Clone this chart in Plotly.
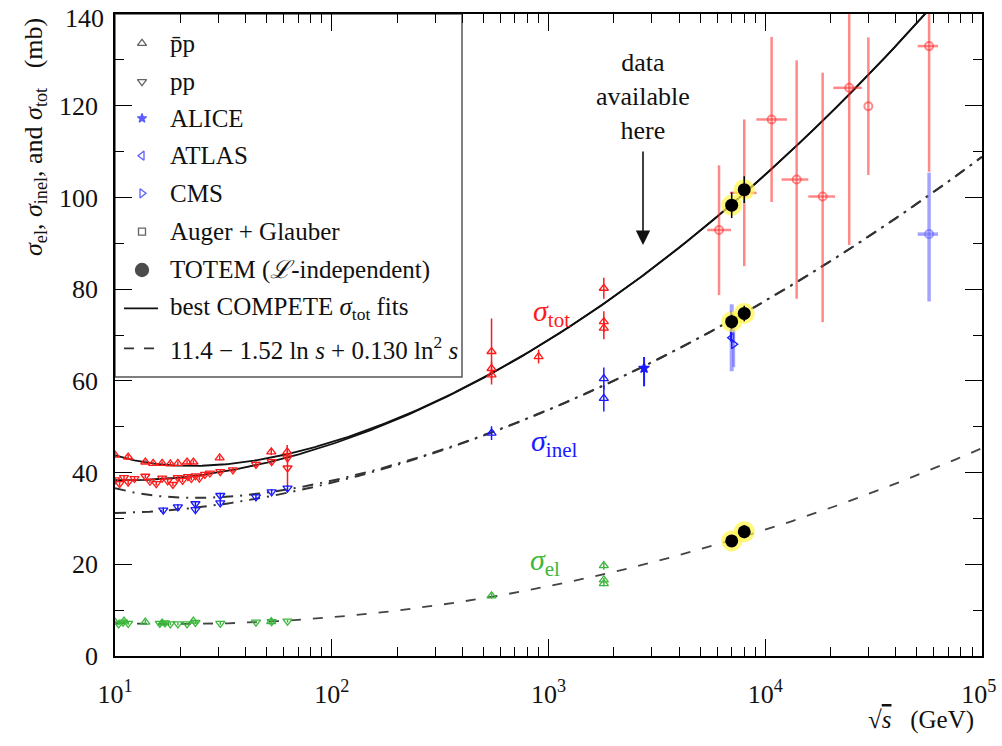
import numpy as np
import plotly.graph_objects as go

# ---------------------------------------------------------------- data
# sigma_tot, pbar-p (red, up triangles)
tot_pbarp_rs = [10.0, 11.5, 13.8, 15.0, 16.5, 18.0, 19.5, 21.5, 23.0, 30.4, 52.6, 62.3,
                546, 546, 546, 900, 1800, 1800, 1800]
tot_pbarp_val = [43.8, 43.4, 42.3, 42.0, 42.0, 41.9, 42.0, 42.3, 42.3, 43.2, 44.5, 44.5,
                 66.4, 62.7, 61.3, 65.3, 80.2, 72.9, 71.5]
tot_pbarp_err = [0.6, 0.5, 0.4, 0.4, 0.4, 0.4, 0.4, 0.4, 0.4, 0.5, 0.7, 1.5,
                 7.2, 1.5, 1.0, 1.5, 2.3, 2.3, 2.4]
# sigma_tot, pp (red, down triangles)
tot_pp_rs = [10.0, 10.5, 11.0, 11.5, 12.3, 13.8, 14.5, 15.5, 16.5, 17.5, 18.5, 19.5,
             20.5, 21.7, 22.5, 23.5, 24.5, 26.0, 27.4, 30.6, 35.0, 44.7, 52.8, 62.5, 62.5]
tot_pp_val = [38.4, 37.6, 38.9, 37.9, 38.7, 39.2, 38.1, 37.6, 38.8, 38.2, 37.4, 38.9,
              38.3, 39.1, 38.7, 39.3, 38.8, 39.6, 39.9, 40.2, 40.6, 41.8, 42.4, 43.2, 41.0]
tot_pp_err = [0.5, 0.5, 0.5, 0.5, 0.5, 0.4, 0.4, 0.4, 0.4, 0.4, 0.4, 0.4,
              0.4, 0.4, 0.4, 0.4, 0.4, 0.4, 0.4, 0.4, 0.5, 0.6, 0.6, 1.0, 3.8]
# cosmic-ray sigma_tot (light red open circles)
cr_rs = [6120, 8000, 10700, 13960, 18400, 24400, 29900]
cr_val = [92.9, 101.0, 117.0, 103.9, 100.2, 123.9, 119.9]
cr_err_plus = [14.1, 16.0, 18.0, 26.0, 27.0, 34.0, 15.0]
cr_err_minus = [14.2, 16.0, 18.0, 26.0, 27.4, 34.3, 15.0]
cr_xerr_plus = [830, 1120, 1900, 1840, 2600, 3500, 0]
cr_xerr_minus = [720, 1130, 1600, 2060, 2600, 3800, 0]
# Auger + Glauber at 57 TeV
auger_rs = [57000]
auger_tot = [133.0]
auger_tot_err_plus = [28.0]
auger_tot_err_minus = [27.4]
auger_inel = [92.0]
auger_inel_err_plus = [13.4]
auger_inel_err_minus = [14.7]
auger_xerr_plus = [5700]
auger_xerr_minus = [6500]

# sigma_inel
inel_pp_rs = [16.7, 19.5, 23.5, 23.5, 30.6, 30.6, 44.7, 52.8, 62.5]
inel_pp_val = [31.8, 32.5, 33.2, 31.9, 35.0, 33.4, 34.7, 35.8, 36.6]
inel_pp_err = [0.6, 0.6, 0.6, 0.6, 0.6, 0.6, 0.6, 0.6, 0.7]
inel_pbarp_rs = [546, 1800, 1800]
inel_pbarp_val = [48.6, 60.5, 56.2]
inel_pbarp_err = [1.5, 2.4, 2.9]
alice_rs = [2760, 6950]
alice_val = [62.8, 73.2]
alice_err_plus = [2.4, 2.0]
alice_err_minus = [4.0, 4.6]
atlas_rs = [7000]
atlas_val = [69.4]
atlas_err = [7.3]
cms_rs = [7150]
cms_val = [68.0]
cms_err = [5.0]

# sigma_el
el_pp_rs = [10.4, 10.9, 11.5, 16.1, 17.0, 18.0, 19.5, 21.5, 23.5, 30.6, 44.7, 52.8, 62.5]
el_pp_val = [7.0, 7.4, 7.1, 7.1, 7.2, 7.0, 7.0, 7.0, 7.3, 7.1, 7.4, 7.5, 7.6]
el_pp_err = [0.3, 0.3, 0.3, 0.3, 0.3, 0.3, 0.3, 0.3, 0.3, 0.3, 0.3, 0.3, 0.3]
el_pbarp_rs = [10.0, 11.0, 13.8, 16.5, 23.0, 52.6, 546, 1800, 1800, 1800]
el_pbarp_val = [7.4, 7.6, 7.4, 7.2, 7.6, 7.5, 13.1, 19.7, 16.6, 15.8]
el_pbarp_err = [0.3, 0.3, 0.5, 0.3, 0.3, 0.3, 0.6, 0.9, 0.4, 0.6]

# TOTEM (luminosity independent)
totem_rs = [7000, 8000]
totem_tot = [98.3, 101.7]
totem_tot_err = [2.8, 2.9]
totem_inel = [72.9, 74.7]
totem_inel_err = [1.5, 1.7]
totem_el = [25.1, 27.1]
totem_el_err = [1.1, 1.4]

# fit parameters (COMPETE-type sigma_tot; sigma_el formula from legend)
Z_FIT, B_FIT, LN_S0 = 35.45, 0.309, 3.425
Y1_FIT, ETA1 = 42.53, 0.458
Y2_FIT, ETA2 = 33.34, 0.545
EL_A, EL_B, EL_C = 11.4, -1.52, 0.130

x_ticks = [10, 100, 1000, 10000, 100000]
x_tick_text = ["10<sup>1</sup>", "10<sup>2</sup>", "10<sup>3</sup>", "10<sup>4</sup>",
               "10<sup>5</sup>&nbsp;"]
y_ticks = [0, 20, 40, 60, 80, 100, 120]
y_top_label = "140"

legend_labels = ["p\u0304p", "pp", "ALICE", "ATLAS", "CMS", "Auger + Glauber",
                 "TOTEM (<i>\u2112</i>-independent)",
                 "best COMPETE <i>\u03c3</i><sub>tot</sub> fits",
                 "11.4 \u2212 1.52 ln <i>s</i> + 0.130 ln<sup>2</sup> <i>s</i>"]

# ---------------------------------------------------------------- layout geometry
W, H = 1002, 746
ML, MR, MT, MB = 115, 20, 14, 90
PW, PH = W - ML - MR, H - MT - MB


def pxx(x):
    return (x - ML) / PW


def pyy(y):
    return (H - MB - y) / PH


FONT = "Liberation Serif, DejaVu Serif, serif"
RED = "#ff1a1a"
RED_L = "rgba(255,40,40,0.55)"
BLUE = "#1a1aff"
BLUE_L = "rgba(90,90,255,0.55)"
GREEN = "#3cb83c"

# ---------------------------------------------------------------- curves
rs = np.logspace(1, 5, 400)
s = rs ** 2
lns = np.log(s)
base = Z_FIT + B_FIT * (lns - LN_S0) ** 2 + Y1_FIT * s ** (-ETA1)
tot_pp_fit = base - Y2_FIT * s ** (-ETA2)
tot_pbarp_fit = base + Y2_FIT * s ** (-ETA2)
el_fit = EL_A + EL_B * lns + EL_C * lns ** 2
inel_pp_fit = tot_pp_fit - el_fit
inel_pbarp_fit = tot_pbarp_fit - el_fit

fig = go.Figure()


def curve(y, dash, color="#111", width=1.8):
    fig.add_trace(go.Scatter(x=rs, y=y, mode="lines", showlegend=False, hoverinfo="skip",
                             line=dict(color=color, width=width, dash=dash)))


curve(tot_pp_fit, "solid")
curve(tot_pbarp_fit, "solid")
curve(inel_pp_fit, "11px,7px,2px,7px", "#333", 2)
curve(inel_pbarp_fit, "11px,7px,2px,7px", "#333", 2)
curve(el_fit, "10px,12px", "#444", 1.8)


def pts(x, y, sym, color, size=8, ep=None, em=None, xp=None, xm=None, ecolor=None,
        ethick=1.5, lw=1.3):
    kw = {}
    if ep is not None:
        kw["error_y"] = dict(type="data", array=ep, arrayminus=em if em is not None else ep,
                             color=ecolor or color, thickness=ethick, width=0)
    if xp is not None:
        kw["error_x"] = dict(type="data", array=xp, arrayminus=xm, color=ecolor or color,
                             thickness=ethick, width=0)
    fig.add_trace(go.Scatter(x=x, y=y, mode="markers", showlegend=False, hoverinfo="skip",
                             marker=dict(symbol=sym, size=size, color=color,
                                         line=dict(color=color, width=lw)), **kw))


# sigma_tot
pts(tot_pp_rs, tot_pp_val, "triangle-down-open", RED, ep=tot_pp_err)
pts(tot_pbarp_rs, tot_pbarp_val, "triangle-up-open", RED, ep=tot_pbarp_err)
pts(cr_rs, cr_val, "circle-open", RED_L, size=8, ep=cr_err_plus, em=cr_err_minus,
    xp=cr_xerr_plus, xm=cr_xerr_minus, ethick=2.5, lw=2)
pts(auger_rs, auger_tot, "circle-open", RED_L, size=8, ep=auger_tot_err_plus,
    em=auger_tot_err_minus, xp=auger_xerr_plus, xm=auger_xerr_minus, ethick=2.5, lw=2)
# sigma_inel
pts(inel_pp_rs, inel_pp_val, "triangle-down-open", BLUE, ep=inel_pp_err)
pts(inel_pbarp_rs, inel_pbarp_val, "triangle-up-open", BLUE, ep=inel_pbarp_err)
pts(atlas_rs, atlas_val, "triangle-left-open", BLUE, size=8, ep=atlas_err, ecolor=BLUE_L, ethick=4)
pts(cms_rs, cms_val, "triangle-right-open", BLUE, size=8, ep=cms_err, ecolor=BLUE_L, ethick=3)
pts(alice_rs, alice_val, "star", BLUE, size=8, ep=alice_err_plus, em=alice_err_minus, ethick=2)
pts(auger_rs, auger_inel, "circle-open", BLUE_L, size=8, ep=auger_inel_err_plus,
    em=auger_inel_err_minus, xp=auger_xerr_plus, xm=auger_xerr_minus, ecolor=BLUE_L,
    ethick=3.5, lw=2)
# sigma_el
pts(el_pp_rs, el_pp_val, "triangle-down-open", GREEN, ep=el_pp_err)
pts(el_pbarp_rs, el_pbarp_val, "triangle-up-open", GREEN, ep=el_pbarp_err)

# TOTEM: yellow halo + black dots
for vals, errs in [(totem_tot, totem_tot_err), (totem_inel, totem_inel_err), (totem_el, totem_el_err)]:
    fig.add_trace(go.Scatter(x=totem_rs, y=vals, mode="markers", showlegend=False, hoverinfo="skip",
                             marker=dict(symbol="circle", size=21, color="rgba(255,245,70,0.7)",
                                         line=dict(width=0))))
    fig.add_trace(go.Scatter(x=totem_rs, y=vals, mode="markers", showlegend=False, hoverinfo="skip",
                             error_y=dict(type="data", array=errs, color="black", thickness=1.5, width=0),
                             marker=dict(symbol="circle", size=13, color="black")))

# ---------------------------------------------------------------- legend (manual)
leg_y = [43.3, 81.7, 118.3, 155.7, 193.3, 231.7, 270.0, 308.3, 348.3]
leg_sym = ["triangle-up-open", "triangle-down-open", "star", "triangle-left-open",
           "triangle-right-open", "square-open", "circle"]
leg_col = ["#222", "#222", BLUE, BLUE, BLUE, "#222", "black"]
leg_size = [8, 8, 7, 8, 8, 7, 13]
fig.add_trace(go.Scatter(x=[pxx(142)] * 7, y=[pyy(v) for v in leg_y[:7]], mode="markers",
                         xaxis="x2", yaxis="y2", showlegend=False, hoverinfo="skip",
                         marker=dict(symbol=leg_sym, size=leg_size, color=leg_col,
                                     line=dict(color=leg_col, width=1.3))))
fig.add_trace(go.Scatter(x=[pxx(124), pxx(158)], y=[pyy(leg_y[7])] * 2, mode="lines",
                         xaxis="x2", yaxis="y2", showlegend=False, hoverinfo="skip",
                         line=dict(color="#111", width=1.8)))
fig.add_trace(go.Scatter(x=[pxx(124), pxx(158)], y=[pyy(leg_y[8])] * 2, mode="lines",
                         xaxis="x2", yaxis="y2", showlegend=False, hoverinfo="skip",
                         line=dict(color="#333", width=1.8, dash="10px,10px")))

annotations = []
for lab, yv in zip(legend_labels, leg_y):
    annotations.append(dict(x=pxx(168), y=pyy(yv), xref="paper", yref="paper", text=lab,
                            showarrow=False, xanchor="left", yanchor="middle",
                            font=dict(family=FONT, size=25, color="#111")))

extra = [
    dict(x=pxx(551), y=pyy(313), text="<i>\u03c3</i><sub>tot</sub>", font=dict(size=30, color=RED, family=FONT)),
    dict(x=pxx(554), y=pyy(443), text="<i>\u03c3</i><sub>inel</sub>", font=dict(size=30, color=BLUE, family=FONT)),
    dict(x=pxx(545), y=pyy(562), text="<i>\u03c3</i><sub>el</sub>", font=dict(size=30, color=GREEN, family=FONT)),
    dict(x=pxx(643), y=pyy(97), text="data<br>available<br>here", font=dict(size=26, color="#111", family=FONT)),
    dict(x=pxx(35), y=pyy(137), textangle=-90,
         text="<i>\u03c3</i><sub>el</sub>, <i>\u03c3</i><sub>inel</sub>, and <i>\u03c3</i><sub>tot</sub>&nbsp;&nbsp;&nbsp;(mb)",
         font=dict(size=26, color="#111", family=FONT)),
    dict(x=pxx(921), y=pyy(720),
         text="\u221a<span style='text-decoration:overline'><i>s</i></span>&nbsp;&nbsp;&nbsp;(GeV)",
         font=dict(size=25, color="#111", family=FONT)),
]
for a in extra:
    a.update(xref="paper", yref="paper", showarrow=False, xanchor="center", yanchor="middle")
annotations += extra

# top y tick label, kept just inside the page
annotations.append(dict(x=pxx(105), y=pyy(3), xref="paper", yref="paper", text=y_top_label,
                        showarrow=False, xanchor="right", yanchor="top", borderpad=0,
                        font=dict(family=FONT, size=26, color="#111")))

annotations.append(dict(x=pxx(643), y=pyy(245), xref="paper", yref="paper", ax=0, ay=-95,
                        text="", showarrow=True, arrowhead=2, arrowsize=1.8, arrowwidth=1.6,
                        arrowcolor="#111", font=dict(size=12)))

minor_x = [d * 10 ** e for e in range(1, 5) for d in range(2, 10)]

fig.update_layout(
    width=W, height=H,
    margin=dict(l=ML, r=MR, t=MT, b=MB, autoexpand=False),
    paper_bgcolor="white", plot_bgcolor="white", showlegend=False,
    font=dict(family=FONT, size=25, color="#111"),
    annotations=annotations,
    shapes=[dict(type="rect", xref="paper", yref="paper", x0=pxx(115), x1=pxx(462),
                 y0=pyy(377), y1=pyy(14), line=dict(color="#555", width=1.5),
                 fillcolor="white", layer="below")],
    xaxis=dict(type="log", range=[1, 5], showgrid=False, zeroline=False, automargin=False,
               showline=True, linecolor="black", linewidth=1.5, mirror="ticks",
               ticks="inside", ticklen=17, tickwidth=1.3, tickcolor="black",
               tickmode="array", tickvals=x_ticks, ticktext=x_tick_text,
               ticklabeloverflow="allow",
               tickfont=dict(family=FONT, size=26, color="#111"), ticklabelstandoff=14,
               minor=dict(tickmode="array", tickvals=minor_x, ticks="inside", ticklen=9,
                          tickwidth=1.2, tickcolor="black", showgrid=False)),
    yaxis=dict(range=[0, 140], showgrid=False, zeroline=False, automargin=False,
               showline=True, linecolor="black", linewidth=1.5, mirror="ticks",
               ticks="inside", ticklen=17, tickwidth=1.3, tickcolor="black",
               tickmode="array", tickvals=y_ticks + [140], ticktext=[str(v) for v in y_ticks] + [""],
               tickfont=dict(family=FONT, size=26, color="#111"),
               ticklabelstandoff=10, ticklabeloverflow="allow",
               minor=dict(tickmode="array", tickvals=[10, 30, 50, 70, 90, 110, 130],
                          ticks="inside", ticklen=9, tickwidth=1.2,
                          tickcolor="black", showgrid=False)),
    xaxis2=dict(overlaying="x", range=[0, 1], visible=False, fixedrange=True),
    yaxis2=dict(overlaying="y", range=[0, 1], visible=False, fixedrange=True),
)

fig.write_html("out.html", config={"displayModeBar": False},
               post_script="document.body.style.margin='0px';")
